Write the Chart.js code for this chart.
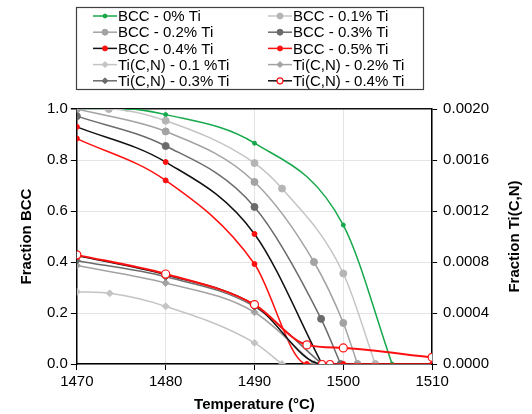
<!DOCTYPE html>
<html>
<head>
<meta charset="utf-8">
<script src="https://cdn.jsdelivr.net/npm/chart.js@4/dist/chart.umd.min.js"></script>
<style>
    html, body { margin: 0; padding: 0; background: #fff; }
    #wrap { width: 532px; height: 414px; }
</style>
</head>
<body>
<div id="wrap"><canvas id="chart"></canvas></div>
<script>
    'use strict';

    // temperatures (°C) and values
    var bcc0T = [1470, 1475.6, 1480, 1490, 1500, 1505.5];
    var bcc0 = [1, 1, 0.978, 0.866, 0.545, 0];

    var bcc1T = [1470, 1473.6, 1480, 1490, 1493.1, 1500, 1503.6];
    var bcc1 = [1, 1, 0.954, 0.788, 0.688, 0.355, 0];

    var bcc2T = [1470, 1480, 1490, 1496.7, 1500, 1501.6];
    var bcc2 = [1, 0.912, 0.714, 0.4, 0.161, 0];

    var bcc3T = [1470, 1480, 1490, 1497.5, 1499.7];
    var bcc3 = [0.972, 0.855, 0.616, 0.177, 0];

    var bcc4T = [1470, 1480, 1490, 1497.6];
    var bcc4 = [0.93, 0.792, 0.51, 0];

    var bcc5T = [1470, 1480, 1490, 1495.9, 1500, 1510];
    var bcc5 = [0.884, 0.72, 0.392, 0, 0, 0];

    var tin1T = [1470, 1473.7, 1480, 1490, 1493.1];
    var tin1 = [0.000566, 0.000554, 0.000452, 0.000166, 0];

    var tin2T = [1470, 1480, 1490, 1496.7];
    var tin2 = [0.000772, 0.000636, 0.000406, 0];

    var tin3T = [1470, 1480, 1490, 1497.6];
    var tin3 = [0.00081, 0.000684, 0.00045, 0];

    var tin4T = [1470, 1480, 1490, 1497.6, 1498.5];
    var tin4 = [0.00085, 0.0007, 0.000464, 0, 0];

    // red series with open markers, not listed in the legend
    var tin5T = [1470, 1480, 1490, 1495.9, 1500, 1510];
    var tin5 = [0.000856, 0.000706, 0.000466, 0.00015, 0.000126, 0.000052];

    var xTicks = { min: 1470, max: 1510, step: 10 };
    var yTicks = { min: 0, max: 1, step: 0.2 };
    var y2Ticks = { min: 0, max: 0.002, step: 0.0004 };

    var FONT = '"Liberation Sans", Arial, sans-serif';

    function pts(xs, ys) {
        return xs.map(function (x, i) { return { x: x, y: ys[i] }; });
    }

    function series(label, xs, ys, axis, line, marker, style) {
        return {
            label: label,
            data: pts(xs, ys),
            yAxisID: axis,
            borderColor: line,
            borderWidth: style.width || 1.5,
            backgroundColor: style.fill || marker,
            pointBorderColor: marker,
            pointBackgroundColor: style.fill || marker,
            pointStyle: style.shape || 'circle',
            pointRadius: style.radius || 2,
            pointBorderWidth: style.pointBorder || 1,
            showLine: true,
            fill: false,
            cubicInterpolationMode: 'monotone',
            inLegend: style.inLegend !== false
        };
    }

    var GREEN = '#16a84a', LIGHT = '#c4c4c4', MID = '#a3a3a3', DARK = '#6b6b6b', RED = '#ff1010';

    var datasets = [
        series('BCC - 0% Ti', bcc0T, bcc0, 'y', GREEN, GREEN, { radius: 2 }),
        series('BCC - 0.1% Ti', bcc1T, bcc1, 'y', LIGHT, '#b5b5b5', { radius: 3.5 }),
        series('BCC - 0.2% Ti', bcc2T, bcc2, 'y', MID, MID, { radius: 3.5 }),
        series('BCC - 0.3% Ti', bcc3T, bcc3, 'y', DARK, DARK, { radius: 3.5 }),
        series('BCC - 0.4% Ti', bcc4T, bcc4, 'y', '#111', RED, { radius: 2.5 }),
        series('BCC - 0.5% Ti', bcc5T, bcc5, 'y', RED, RED, { radius: 2.5 }),
        series('Ti(C,N) - 0.1 %Ti', tin1T, tin1, 'y2', LIGHT, LIGHT, { shape: 'rectRot', radius: 3.5 }),
        series('Ti(C,N) - 0.2% Ti', tin2T, tin2, 'y2', MID, MID, { shape: 'rectRot', radius: 3.5 }),
        series('Ti(C,N) - 0.3% Ti', tin3T, tin3, 'y2', DARK, DARK, { shape: 'rectRot', radius: 3.5 }),
        series('Ti(C,N) - 0.4% Ti', tin4T, tin4, 'y2', '#111', RED, { fill: '#fff', radius: 3.5, pointBorder: 1.2 }),
        series('Ti(C,N) - 0.5% Ti', tin5T, tin5, 'y2', RED, RED, { fill: '#fff', radius: 4, pointBorder: 1.2, width: 2, inLegend: false })
    ];
    datasets.forEach(function (d, i) { d.order = datasets.length - i; });

    var legendBox = {
        id: 'legendBox',
        afterDraw: function (chart) {
            var ctx = chart.ctx;
            var colX = [93, 268], rowY = 16, rowStep = 16.2, sample = 24;
            ctx.save();
            ctx.strokeStyle = '#404040';
            ctx.lineWidth = 1.2;
            ctx.strokeRect(76.5, 7.5, 347, 82);
            ctx.font = '15px ' + FONT;
            ctx.textBaseline = 'middle';
            ctx.fillStyle = '#000';
            var items = chart.data.datasets.filter(function (d) { return d.inLegend; });
            items.forEach(function (d, i) {
                var x = colX[i % 2], y = rowY + Math.floor(i / 2) * rowStep;
                ctx.strokeStyle = d.borderColor;
                ctx.lineWidth = d.borderWidth;
                ctx.beginPath();
                ctx.moveTo(x, y);
                ctx.lineTo(x + sample, y);
                ctx.stroke();
                ctx.fillStyle = d.pointBackgroundColor;
                ctx.strokeStyle = d.pointBorderColor;
                ctx.lineWidth = d.pointBorderWidth;
                Chart.helpers.drawPoint(ctx, {
                    pointStyle: d.pointStyle,
                    radius: Math.min(d.pointRadius, 3),
                    rotation: 0,
                    borderWidth: d.pointBorderWidth
                }, x + sample / 2, y);
                ctx.fillStyle = '#000';
                ctx.fillText(d.label, x + sample + 1, y + 1);
            });

            // right axis title, read bottom to top like the left one
            var area = chart.chartArea;
            ctx.translate(515, (area.top + area.bottom) / 2);
            ctx.rotate(-Math.PI / 2);
            ctx.font = 'bold 15px ' + FONT;
            ctx.textAlign = 'center';
            ctx.fillText('Fraction Ti(C,N)', 0, 0);
            ctx.restore();
        }
    };

    new Chart(document.getElementById('chart').getContext('2d'), {
        type: 'scatter',
        data: { datasets: datasets },
        plugins: [legendBox],
        options: {
            responsive: true,
            maintainAspectRatio: false,
            animation: false,
            layout: { padding: { top: 109, right: 37, left: 18, bottom: 0 } },
            plugins: {
                legend: { display: false },
                tooltip: { enabled: false }
            },
            scales: {
                x: {
                    type: 'linear',
                    min: xTicks.min,
                    max: xTicks.max,
                    ticks: {
                        stepSize: xTicks.step, color: '#000', font: { size: 15, family: FONT }, padding: 3,
                        callback: function (v) { return String(v); }
                    },
                    grid: { color: '#e4e4e4', tickColor: '#000', tickLength: 6 },
                    border: { color: '#000', width: 1.5 },
                    title: { display: true, text: 'Temperature (°C)', color: '#000', font: { size: 15, weight: 'bold', family: FONT }, padding: { top: 2, bottom: 0 } }
                },
                y: {
                    position: 'left',
                    min: yTicks.min,
                    max: yTicks.max,
                    ticks: {
                        stepSize: yTicks.step, color: '#000', font: { size: 15, family: FONT }, padding: 3,
                        callback: function (v) { return v.toFixed(1); }
                    },
                    grid: {
                        color: function (c) { return c.tick && c.tick.value === 1 ? '#111' : '#e4e4e4'; },
                        lineWidth: function (c) { return c.tick && c.tick.value === 1 ? 1.5 : 1; },
                        tickColor: '#000', tickLength: 6
                    },
                    border: { color: '#000', width: 1.5 },
                    title: { display: true, text: 'Fraction BCC', color: '#000', font: { size: 15, weight: 'bold', family: FONT }, padding: { top: 0, bottom: 8 } }
                },
                y2: {
                    position: 'right',
                    min: y2Ticks.min,
                    max: y2Ticks.max,
                    ticks: {
                        stepSize: y2Ticks.step, color: '#000', font: { size: 15, family: FONT }, padding: 6,
                        callback: function (v) { return v.toFixed(4); }
                    },
                    grid: { drawOnChartArea: false, tickColor: '#000', tickLength: 5 },
                    border: { color: '#000', width: 1.5 },
                    title: { display: false }
                }
            }
        }
    });
</script>
</body>
</html>
